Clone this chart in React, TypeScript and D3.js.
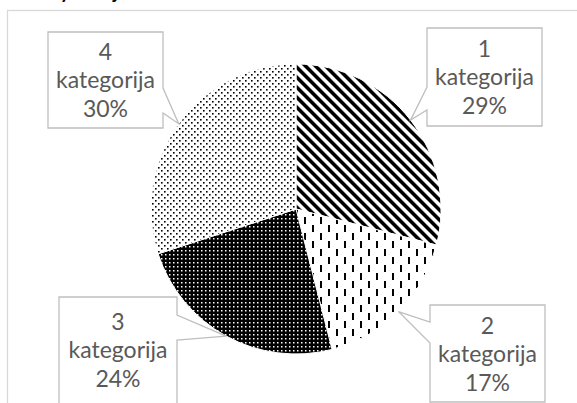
import React from "react";
import * as d3 from "d3";

const categories = ["1", "2", "3", "4"];
const values = [29, 17, 24, 30];
const categoryWord = "kategorija";
const patterns = ["p1", "p2", "p3", "p4"];

// label box layout: box rect, pointer side and pointer base on that side, middle text baseline
const boxes = [
  { x: 427, y: 28, w: 115, h: 98, side: "left", b1: 87, b2: 110, mid: 85 },
  { x: 430, y: 305, w: 115, h: 97, side: "left", b1: 322, b2: 343, mid: 362 },
  { x: 59, y: 297, w: 118, h: 120, side: "right", b1: 315, b2: 340, mid: 358 },
  { x: 48, y: 32, w: 115, h: 96, side: "right", b1: 88, b2: 113, mid: 88 },
];

const W = 577, H = 403;
const cx = 296, cy = 209, R = 145;
const font = "Lato, 'Open Sans', sans-serif";

export default function App() {
  const total = d3.sum(values);
  const pie = d3.pie<number>().sort(null).value((d) => d).startAngle(0).endAngle(2 * Math.PI);
  const arcs = pie(values);
  const arc = d3.arc<d3.PieArcDatum<number>>().innerRadius(0).outerRadius(R);
  const edge = d3.arc<d3.PieArcDatum<number>>().innerRadius(R).outerRadius(R);

  const calloutPath = (b: typeof boxes[number], tip: [number, number]) => {
    const { x, y, w, h } = b;
    if (b.side === "left") {
      return `M${x},${y}H${x + w}V${y + h}H${x}V${b.b2}L${tip[0]},${tip[1]}L${x},${b.b1}Z`;
    }
    return `M${x},${y}H${x + w}V${b.b1}L${tip[0]},${tip[1]}L${x + w},${b.b2}V${y + h}H${x}Z`;
  };

  return (
    <svg width={W} height={H} style={{ position: "absolute", left: 0, top: 0, background: "white" }}>
      <defs>
        <pattern id="p1" patternUnits="userSpaceOnUse" width={7.07} height={10} patternTransform="rotate(-45)">
          <rect width={7.07} height={10} fill="white" />
          <rect x={0} width={3.6} height={10} fill="black" />
        </pattern>
        <pattern id="p2" patternUnits="userSpaceOnUse" width={16} height={16}>
          <rect width={16} height={16} fill="white" />
          <rect x={0} y={0} width={2} height={7} fill="black" />
          <rect x={8} y={8} width={2} height={7} fill="black" />
        </pattern>
        <pattern id="p3" patternUnits="userSpaceOnUse" width={4} height={4}>
          <rect width={4} height={4} fill="black" />
          <rect x={1} y={1} width={1.5} height={1.5} fill="white" />
        </pattern>
        <pattern id="p4" patternUnits="userSpaceOnUse" width={6} height={6}>
          <rect width={6} height={6} fill="white" />
          <rect x={0} y={0} width={1.6} height={1.6} fill="black" />
          <rect x={3} y={3} width={1.6} height={1.6} fill="black" />
        </pattern>
      </defs>

      <text x={60} y={-1} fontFamily={font} fontWeight="bold" fontSize={19} fill="black">y</text>
      <text x={113} y={-1} fontFamily={font} fontWeight="bold" fontSize={19} fill="black">j</text>

      <rect x={7.5} y={10.5} width={700} height={500} fill="none" stroke="#d9d9d9" strokeWidth={1.3} />

      <g transform={`translate(${cx},${cy})`}>
        {arcs.map((a, i) => (
          <path key={i} d={arc(a) || ""} fill={`url(#${patterns[i]})`} stroke="white" strokeWidth={1} />
        ))}
      </g>

      {arcs.map((a, i) => {
        const b = boxes[i];
        const c = edge.centroid(a);
        const tip: [number, number] = [c[0] + cx, c[1] + cy];
        const tx = b.x + b.w / 2;
        const pct = Math.round((values[i] / total) * 100) + "%";
        return (
          <g key={i}>
            <path d={calloutPath(b, tip)} fill="white" stroke="#bfbfbf" strokeWidth={1.3} />
            <text x={tx} textAnchor="middle" fontFamily={font} fontSize={23} fill="#595959">
              <tspan x={tx} y={b.mid - 28}>{categories[i]}</tspan>
              <tspan x={tx} y={b.mid}>{categoryWord}</tspan>
              <tspan x={tx} y={b.mid + 29}>{pct}</tspan>
            </text>
          </g>
        );
      })}
    </svg>
  );
}
